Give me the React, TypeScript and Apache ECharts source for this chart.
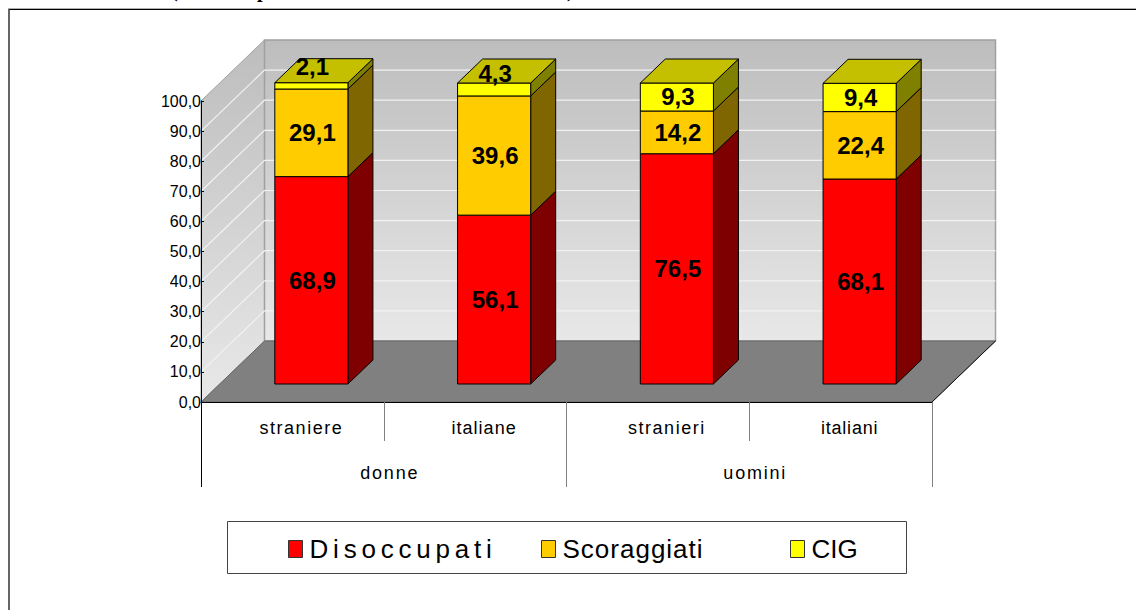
import React, { useEffect, useRef } from "react";
import * as echarts from "echarts";

const categories = ["straniere", "italiane", "stranieri", "italiani"];
const groups = ["donne", "uomini"];
const disoccupati = [68.9, 56.1, 76.5, 68.1];
const scoraggiati = [29.1, 39.6, 14.2, 22.4];
const cig = [2.1, 4.3, 9.3, 9.4];
const yTicks = [0, 10, 20, 30, 40, 50, 60, 70, 80, 90, 100];
const textSpacing: Record<string, number> = {
  straniere: 1.5,
  italiane: 1,
  stranieri: 1.5,
  italiani: 0.8,
  donne: 1.8,
  uomini: 1.8,
  Disoccupati: 4.8,
  Scoraggiati: 1,
};

const FONT = '"Liberation Sans", Arial, sans-serif';
const WALL_DX = 63.5;
const WALL_DY = 61;
const BAR_OFFSET_X = 19;
const BAR_OFFSET_Y = 18;
const BAR_DX = 25;
const BAR_DY = 24;
const EDGE = "#000";

const num = (v: number) => v.toFixed(1).replace(".", ",");

function renderWalls(params: any, api: any) {
  const cs = params.coordSys;
  const x0 = cs.x;
  const x1 = cs.x + cs.width;
  const y0 = api.coord([0, 0])[1];
  const y100 = api.coord([0, 100])[1];
  const grad = () =>
    new echarts.graphic.LinearGradient(0, 0, 0, 1, [
      { offset: 0, color: "#bdbdbd" },
      { offset: 1, color: "#e8e8e8" },
    ]);
  const children: any[] = [
    {
      type: "polygon",
      shape: { points: [[x0, y100], [x0 + WALL_DX, y100 - WALL_DY], [x0 + WALL_DX, y0 - WALL_DY], [x0, y0]] },
      style: { fill: grad(), stroke: "#a0a0a0", lineWidth: 1 },
    },
    {
      type: "polygon",
      shape: {
        points: [
          [x0 + WALL_DX, y100 - WALL_DY],
          [x1 + WALL_DX, y100 - WALL_DY],
          [x1 + WALL_DX, y0 - WALL_DY],
          [x0 + WALL_DX, y0 - WALL_DY],
        ],
      },
      style: { fill: grad(), stroke: "#a0a0a0", lineWidth: 1.5 },
    },
  ];
  yTicks.slice(1, -1).forEach((t) => {
    const y = api.coord([0, t])[1];
    children.push({
      type: "polyline",
      shape: { points: [[x0, y], [x0 + WALL_DX, y - WALL_DY], [x1 + WALL_DX, y - WALL_DY]] },
      style: { fill: "none", stroke: "#f2f2f2", lineWidth: 1.2 },
    });
  });
  children.push({
    type: "polygon",
    shape: { points: [[x0, y0], [x1, y0], [x1 + WALL_DX, y0 - WALL_DY], [x0 + WALL_DX, y0 - WALL_DY]] },
    style: { fill: "#808080", stroke: "#666", lineWidth: 1 },
  });
  children.push({
    type: "line",
    shape: { x1: x1, y1: y0, x2: x1 + WALL_DX, y2: y0 - WALL_DY },
    style: { stroke: "#111", lineWidth: 1 },
  });
  return { type: "group", children };
}

function makeSegment(front: string, side: string, capped: boolean) {
  return (params: any, api: any) => {
    const cat = api.value(0);
    const base = api.value(1);
    const top = api.value(2);
    const step = params.coordSys.width / categories.length;
    const w = step * 0.4;
    const cx = api.coord([cat, 0])[0] + BAR_OFFSET_X;
    const l = cx - w / 2;
    const r = cx + w / 2;
    const yb = api.coord([cat, base])[1] - BAR_OFFSET_Y;
    const yt = api.coord([cat, top])[1] - BAR_OFFSET_Y;
    const h = yb - yt;
    const children: any[] = [
      {
        type: "polygon",
        shape: { points: [[r, yb], [r + BAR_DX, yb - BAR_DY], [r + BAR_DX, yt - BAR_DY], [r, yt]] },
        style: { fill: side, stroke: EDGE, lineWidth: 1 },
      },
      {
        type: "rect",
        shape: { x: l, y: yt, width: w, height: h },
        style: { fill: front, stroke: EDGE, lineWidth: 1 },
      },
    ];
    if (capped) {
      children.push({
        type: "polygon",
        shape: { points: [[l, yt], [r, yt], [r + BAR_DX, yt - BAR_DY], [l + BAR_DX, yt - BAR_DY]] },
        style: { fill: "#c4c000", stroke: EDGE, lineWidth: 1 },
      });
    }
    const lift = h < 20 ? 22 - 0.45 * h : 0;
    children.push({
      type: "text",
      z2: 10,
      style: {
        text: num(top - base),
        x: cx + 1,
        y: (yb + yt) / 2 - lift,
        fill: "#000",
        font: 'bold 24px "Liberation Sans", sans-serif',
        align: "center",
        verticalAlign: "middle",
      },
    });
    return { type: "group", children };
  };
}

function stacked(values: number[], below: number[][]) {
  return values.map((v, i) => {
    const base = below.reduce((s, arr) => s + arr[i], 0);
    return [i, base, base + v];
  });
}

function legendItem(name: string, left: number) {
  return {
    data: [name],
    left,
    top: 536,
    padding: 0,
    icon: "rect",
    itemWidth: 14,
    itemHeight: 17,
    selectedMode: false,
    itemStyle: { borderColor: "#333", borderWidth: 1 },
    textStyle: { fontFamily: FONT, fontSize: 26, color: "#000", padding: [2, 0, 0, 2] },
  };
}

export default function App() {
  const ref = useRef<HTMLDivElement>(null);
  useEffect(() => {
    const chart = echarts.init(ref.current!, null, { renderer: "svg" });
    const segStyle = (color: string) => ({ color });
    chart.setOption({
      animation: false,
      backgroundColor: "#fff",
      grid: { left: 201, top: 101, width: 731, height: 301, containLabel: false },
      legend: [
        legendItem("Disoccupati", 288),
        legendItem("Scoraggiati", 541),
        legendItem("CIG", 790),
      ],
      xAxis: [
        {
          type: "category",
          data: categories,
          z: 5,
          axisLine: { lineStyle: { color: "#000", width: 1 } },
          axisTick: { show: true, interval: 0, length: 39, lineStyle: { color: "#808080", width: 1 } },
          axisLabel: {
            margin: 17,
            padding: [0, 0, 0, 18],
            color: "#000",
            fontFamily: FONT,
            fontSize: 18,
          },
        },
        {
          type: "category",
          data: groups,
          z: 5,
          position: "bottom",
          axisLine: { show: false },
          axisTick: { show: true, interval: 0, length: 85, lineStyle: { color: "#808080", width: 1 } },
          axisLabel: {
            margin: 62,
            padding: [0, 0, 0, 12],
            color: "#000",
            fontFamily: FONT,
            fontSize: 18,
          },
        },
      ],
      yAxis: {
        type: "value",
        min: 0,
        max: 100,
        interval: 10,
        z: 5,
        splitLine: { show: false },
        axisLine: { show: true, lineStyle: { color: "#000", width: 1 } },
        axisTick: { show: true, inside: true, length: 3, lineStyle: { color: "#000" } },
        axisLabel: {
          margin: 0,
          color: "#000",
          fontFamily: FONT,
          fontSize: 16,
          formatter: (v: number) => num(v),
        },
      },
      series: [
        {
          type: "custom",
          name: "walls",
          z: 1,
          silent: true,
          data: [[0, 0]],
          encode: { x: 0, y: 1 },
          renderItem: renderWalls,
        },
        {
          type: "custom",
          name: "Disoccupati",
          z: 6,
          itemStyle: segStyle("#ff0000"),
          data: stacked(disoccupati, []),
          encode: { x: 0, y: [1, 2] },
          renderItem: makeSegment("#ff0000", "#7f0000", false),
        },
        {
          type: "custom",
          name: "Scoraggiati",
          z: 7,
          itemStyle: segStyle("#ffcc00"),
          data: stacked(scoraggiati, [disoccupati]),
          encode: { x: 0, y: [1, 2] },
          renderItem: makeSegment("#ffcc00", "#7f6600", false),
        },
        {
          type: "custom",
          name: "CIG",
          z: 8,
          itemStyle: segStyle("#ffff00"),
          data: stacked(cig, [disoccupati, scoraggiati]),
          encode: { x: 0, y: [1, 2] },
          renderItem: makeSegment("#ffff00", "#808000", true),
        },
      ],
      graphic: [
        { type: "line", z: 20, shape: { x1: 8, y1: 8.5, x2: 1136, y2: 8.5 }, style: { stroke: "#b0b0b0", lineWidth: 1 } },
        { type: "line", z: 20, shape: { x1: 9, y1: 9.5, x2: 1136, y2: 9.5 }, style: { stroke: "#000", lineWidth: 1 } },
        { type: "line", z: 20, shape: { x1: 9, y1: 9, x2: 9, y2: 610 }, style: { stroke: "#333", lineWidth: 1.5 } },
        { type: "line", z: 20, shape: { x1: 201.5, y1: 402, x2: 201.5, y2: 487 }, style: { stroke: "#000", lineWidth: 1 } },
        { type: "rect", z: 20, shape: { x: 227.5, y: 521.5, width: 679, height: 52 }, style: { fill: "none", stroke: "#444", lineWidth: 1 } },
        { type: "text", z: 20, style: { text: "(", x: 171, y: 0, fill: "#000", font: 'bold 20px "Liberation Serif", serif', verticalAlign: "bottom" } },
        { type: "text", z: 20, style: { text: "p", x: 257, y: 0, fill: "#000", font: 'bold 20px "Liberation Serif", serif', verticalAlign: "bottom" } },
        { type: "text", z: 20, style: { text: ")", x: 567, y: 0, fill: "#000", font: 'bold 20px "Liberation Serif", serif', verticalAlign: "bottom" } },
      ],
    });
    ref.current!.querySelectorAll("text").forEach((t) => {
      const s = textSpacing[t.textContent || ""];
      if (s) t.setAttribute("letter-spacing", String(s));
    });
    return () => chart.dispose();
  }, []);
  return <div ref={ref} style={{ position: "absolute", left: 0, top: 0, width: 1136, height: 610 }} />;
}
